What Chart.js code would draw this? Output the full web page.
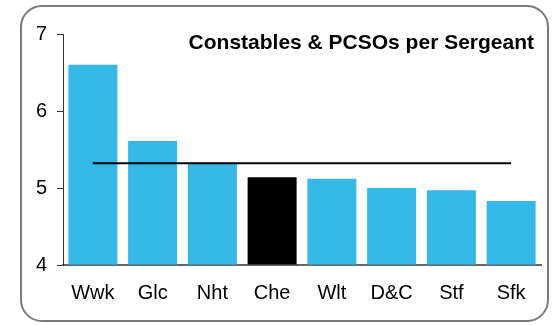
<!DOCTYPE html>
<html>
<head>
<meta charset="utf-8">
<script src="https://cdn.jsdelivr.net/npm/chart.js@4.4.1/dist/chart.umd.min.js"></script>
<style>
  html, body { margin: 0; padding: 0; background: #fff; }
  #wrap { position: relative; width: 553px; height: 325px; }
  #frame { position: absolute; left: 20px; top: 5px; width: 525px; height: 313px;
           border: 2px solid #7a7a7a; border-radius: 22px; box-sizing: content-box; pointer-events: none; }
  canvas { position: absolute; left: 0; top: 0; }
</style>
</head>
<body>
<div id="wrap">
  <canvas id="c" width="553" height="325"></canvas>
  <div id="frame"></div>
</div>
<script>
const categories = ["Wwk", "Glc", "Nht", "Che", "Wlt", "D&C", "Stf", "Sfk"];
const ratioValues = [6.6, 5.61, 5.33, 5.14, 5.12, 5.0, 4.97, 4.83];
const averageValue = 5.32;
const averageLine = categories.map(() => averageValue);
const highlightCategory = "Che";
const yTicks = [4, 5, 6, 7];
const chartTitle = "Constables & PCSOs per Sergeant";

const BLUE = "#33b8e8";
const barColors = categories.map(c => c === highlightCategory ? "#000000" : BLUE);

const titlePlugin = {
  id: "innerTitle",
  afterDraw(chart) {
    const { ctx, chartArea } = chart;
    ctx.save();
    ctx.font = "bold 21px 'Liberation Sans', Arial, sans-serif";
    ctx.fillStyle = "#000";
    ctx.textAlign = "right";
    ctx.textBaseline = "alphabetic";
    ctx.fillText(chartTitle, chartArea.right - 7, chartArea.top + 15);
    ctx.restore();
  }
};

new Chart(document.getElementById("c"), {
  data: {
    labels: categories,
    datasets: [
      {
        type: "line",
        data: averageLine,
        borderColor: "#000",
        borderWidth: 2,
        pointRadius: 0,
        fill: false,
        order: 0
      },
      {
        type: "bar",
        data: ratioValues,
        backgroundColor: barColors,
        barPercentage: 0.82,
        categoryPercentage: 1.0,
        base: 4,
        order: 1
      }
    ]
  },
  options: {
    responsive: false,
    animation: false,
    devicePixelRatio: 1,
    layout: { padding: { left: 0, right: 12, top: 34, bottom: 0 } },
    plugins: { legend: { display: false }, tooltip: { enabled: false }, title: { display: false } },
    scales: {
      x: {
        grid: { display: false, drawTicks: false, tickLength: 0 },
        border: { display: true, color: "#666", width: 2 },
        ticks: {
          color: "#000",
          font: { family: "'Liberation Sans', Arial, sans-serif", size: 20 },
          padding: 16,
          maxRotation: 0
        },
        afterFit(scale) { scale.height = 60; }
      },
      y: {
        min: 4,
        max: 7,
        afterBuildTicks(scale) { scale.ticks = yTicks.map(v => ({ value: v })); },
        grid: { drawOnChartArea: false, drawTicks: true, tickLength: 6, color: "#333" },
        border: { display: true, color: "#333", width: 1 },
        ticks: {
          color: "#000",
          font: { family: "'Liberation Sans', Arial, sans-serif", size: 20 },
          padding: 10
        },
        afterFit(scale) { scale.width = 63; }
      }
    }
  },
  plugins: [titlePlugin]
});
</script>
</body>
</html>
